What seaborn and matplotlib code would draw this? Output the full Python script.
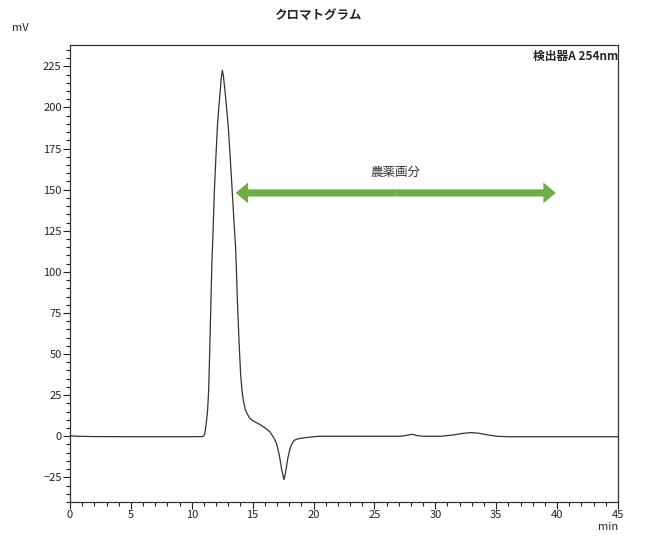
import numpy as np
import pandas as pd
import matplotlib
matplotlib.use("Agg")
import matplotlib.pyplot as plt
from matplotlib.patches import FancyArrowPatch
from matplotlib.ticker import MultipleLocator
import seaborn as sns

# retention time (min) and detector signal (mV)
time_min = [0.0, 0.15, 0.5, 2.0, 5.0, 8.0, 10.0, 10.9, 11.0, 11.08, 11.15, 11.22,
            11.3, 11.38, 11.45, 11.55, 11.65, 11.75, 11.85, 11.97, 12.1, 12.22, 12.32,
            12.42, 12.51, 12.6, 12.75, 12.88, 13.0, 13.17, 13.33, 13.47, 13.6,
            13.67, 13.75, 13.88, 14.01, 14.12, 14.23, 14.4, 14.6, 14.75, 15.0,
            15.5, 16.0, 16.4, 16.7, 16.97, 17.2, 17.4, 17.57, 17.7, 17.9, 18.05,
            18.2, 18.4, 18.75, 19.2, 19.85, 20.5, 22.0, 25.0, 27.2, 27.8, 28.1,
            28.5, 29.0, 30.5, 31.5, 32.3, 33.0, 33.6, 34.3, 35.0, 36.0, 40.0, 45.0]
signal_mv = [0.8, 0.2, 0.0, -0.2, -0.3, -0.3, -0.3, -0.2, 0.3, 2.0, 5.5, 10.0,
             16.0, 27.0, 45.0, 75.0, 105.0, 125.0, 148.0, 168.0, 188.0, 200.0, 208.5,
             218.0, 222.6, 219.0, 208.5, 198.0, 188.0, 168.0, 148.0, 130.0, 115.0,
             100.0, 82.0, 58.0, 38.0, 28.0, 22.0, 16.0, 13.0, 11.0, 9.5,
             7.5, 5.2, 2.8, -0.5, -4.5, -12.0, -21.0, -26.4, -22.0, -13.0, -8.0,
             -5.0, -2.5, -1.5, -1.0, -0.4, 0.0, 0.0, 0.0, 0.0, 0.8, 1.2,
             0.4, 0.0, 0.0, 0.8, 1.8, 2.2, 1.8, 0.8, 0.0, -0.3, -0.3, -0.3]

# pesticide fraction range (min) and its label
fraction_start = 13.6
fraction_end = 39.9
fraction_level = 148
fraction_label = "農薬画分"

df = pd.DataFrame({"time": time_min, "signal": signal_mv})

sns.set_style("ticks")
plt.rcParams['font.family'] = ['Noto Sans CJK JP', 'DejaVu Sans']

fig = plt.figure(figsize=(6.5, 5.52), dpi=100)
ax = fig.add_axes([0.1077, 0.0906, 0.843, 0.8279])

sns.lineplot(data=df, x="time", y="signal", ax=ax, color="#333333", linewidth=0.9)

ax.set_xlim(0, 45)
ax.set_ylim(-40, 238)
ax.xaxis.set_major_locator(MultipleLocator(5))
ax.xaxis.set_minor_locator(MultipleLocator(1))
ax.yaxis.set_major_locator(MultipleLocator(25))
ax.yaxis.set_minor_locator(MultipleLocator(5))
ax.tick_params(which="major", length=5, width=0.8, labelsize=8, pad=1, colors="#222222")
ax.tick_params(which="minor", length=3, width=0.8, colors="#222222")
ax.set_xlabel("")
ax.set_ylabel("")
for s in ax.spines.values():
    s.set_color("#333333")
    s.set_linewidth(0.9)

# double-headed green arrow for the fraction
mid = (fraction_start + fraction_end) / 2
for end in (fraction_start, fraction_end):
    arr = FancyArrowPatch((mid, fraction_level), (end, fraction_level),
                          arrowstyle="simple,head_length=0.45,head_width=0.75,tail_width=0.26",
                          mutation_scale=20, color="#70AD47", lw=0,
                          shrinkA=0, shrinkB=0)
    ax.add_patch(arr)
ax.text(mid, 160.5, fraction_label, ha="center", va="center", fontsize=9, color="#333333")

fig.text(0.489, 0.972, "クロマトグラム", ha="center", va="center", fontsize=9, fontweight="bold")
fig.text(0.018, 0.950, "mV", ha="left", va="center", fontsize=8)
fig.text(0.951, 0.045, "min", ha="right", va="center", fontsize=8)
ax.text(1.0, 0.99, "検出器A 254nm", transform=ax.transAxes, ha="right", va="top",
        fontsize=8.5, fontweight="bold")

fig.savefig("out.png", dpi=100)
